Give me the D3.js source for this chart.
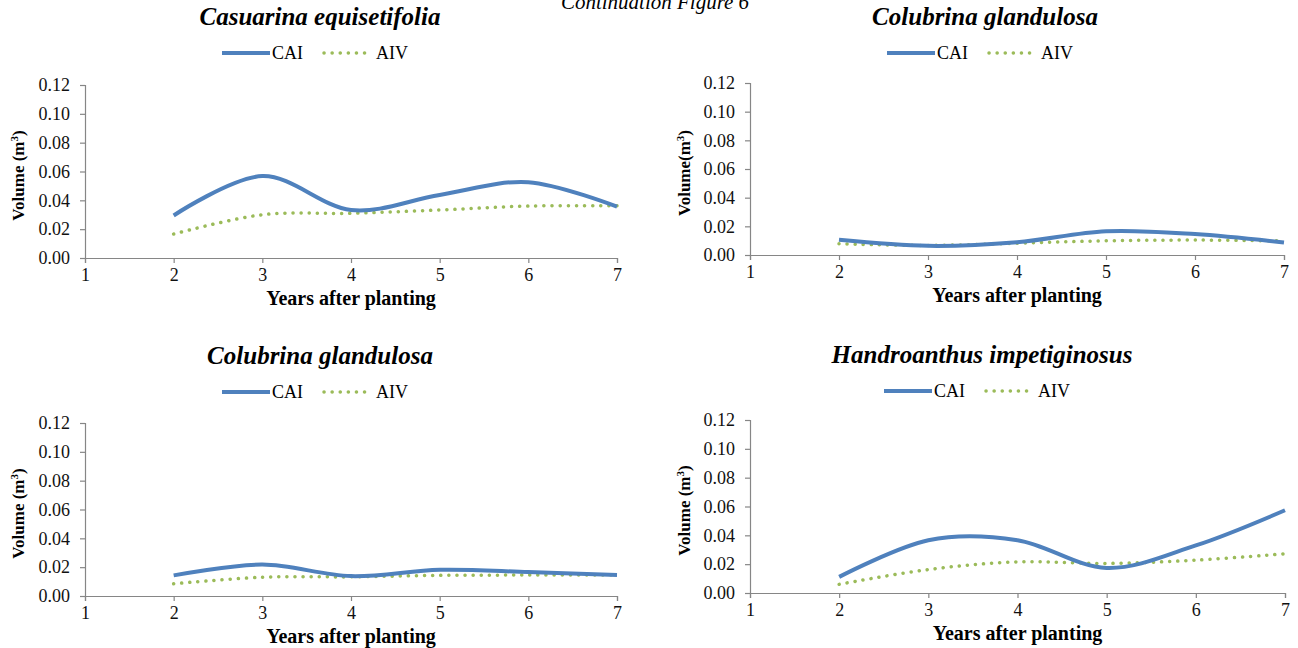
<!DOCTYPE html>
<html>
<head>
<meta charset="utf-8">
<script src="https://cdn.jsdelivr.net/npm/d3@7"></script>
<style>
  body { margin: 0; background: #fff; }
  svg { display: block; }
  svg text { font-family: 'Liberation Serif', 'Times New Roman', serif; }
</style>
</head>
<body>
<svg width="1298" height="648"></svg>
<script>
// data
let years = [2, 3, 4, 5, 6, 7];
let titles = ['Casuarina equisetifolia', 'Colubrina glandulosa', 'Colubrina glandulosa', 'Handroanthus impetiginosus'];
let yTitles = ['Volume (m', 'Volume(m', 'Volume (m', 'Volume (m'];
let yTicks = [0, 0.02, 0.04, 0.06, 0.08, 0.10, 0.12];
let xTicks = [1, 2, 3, 4, 5, 6, 7];
let seriesNames = ['CAI', 'AIV'];

let caiCasuarina = [0.0295, 0.0568, 0.0333, 0.0437, 0.0526, 0.0356];
let aivCasuarina = [0.0166, 0.0300, 0.0310, 0.0333, 0.0360, 0.0362];
let caiColubrina1 = [0.0106, 0.0064, 0.0089, 0.0166, 0.0146, 0.0087];
let aivColubrina1 = [0.0078, 0.0067, 0.0082, 0.0099, 0.0104, 0.0098];
let caiColubrina2 = [0.0143, 0.0218, 0.0138, 0.0182, 0.0166, 0.0145];
let aivColubrina2 = [0.0085, 0.0130, 0.0133, 0.0143, 0.0145, 0.0145];
let caiHandro = [0.0112, 0.0366, 0.0366, 0.0174, 0.0330, 0.0574];
let aivHandro = [0.0060, 0.0163, 0.0216, 0.0205, 0.0228, 0.0272];

let svg = d3.select('svg');

// figure caption, cut off at the top like the source scan
svg.append('text')
    .attr('x', 655).attr('y', 9)
    .attr('text-anchor', 'middle')
    .attr('font-style', 'italic')
    .attr('font-size', 21)
    .text('Continuation Figure 6');

// layout of the four panels
let panels = [
    { left: 85, right: 617, top: 85, bottom: 258, cx: 320, titleY: 25, legY: 53, yLabX: 24, xLabY: 305, cai: caiCasuarina, aiv: aivCasuarina },
    { left: 750, right: 1284, top: 83, bottom: 255, cx: 985, titleY: 25, legY: 53, yLabX: 690, xLabY: 302, cai: caiColubrina1, aiv: aivColubrina1 },
    { left: 85, right: 617, top: 423, bottom: 596, cx: 320, titleY: 364, legY: 392, yLabX: 24, xLabY: 643, cai: caiColubrina2, aiv: aivColubrina2 },
    { left: 750, right: 1285, top: 420, bottom: 593, cx: 982, titleY: 363, legY: 391, yLabX: 690, xLabY: 640, cai: caiHandro, aiv: aivHandro }
];

let axisColor = '#868686';
let blue = '#4f81bd', green = '#9bbb59';
let dots = '0.1,8';

let drawPanel = (p, i) => {
    let g = svg.append('g');

    let x = d3.scaleLinear().domain([1, 7]).range([p.left, p.right]);
    let y = d3.scaleLinear().domain([0, 0.12]).range([p.bottom, p.top]);

    // title
    g.append('text')
        .attr('x', p.cx).attr('y', p.titleY)
        .attr('text-anchor', 'middle')
        .attr('font-weight', 'bold').attr('font-style', 'italic')
        .attr('font-size', 25)
        .text(titles[i]);

    // legend
    let lx = p.cx - 98;
    let leg = g.append('g').attr('transform', `translate(${lx}, ${p.legY})`);
    leg.append('line').attr('x1', 0).attr('x2', 48).attr('y1', 0).attr('y2', 0)
        .attr('stroke', blue).attr('stroke-width', 4);
    leg.append('text').attr('x', 50).attr('y', 6).attr('font-size', 18).text(seriesNames[0]);
    leg.append('line').attr('x1', 102).attr('x2', 150).attr('y1', 0).attr('y2', 0)
        .attr('stroke', green).attr('stroke-width', 3.5)
        .attr('stroke-linecap', 'round').attr('stroke-dasharray', dots);
    leg.append('text').attr('x', 154).attr('y', 6).attr('font-size', 18).text(seriesNames[1]);

    // axes
    let yAxis = d3.axisLeft(y).tickValues(yTicks).tickFormat(d3.format('.2f')).tickSizeOuter(0).tickSize(5).tickPadding(10);
    let gy = g.append('g').attr('transform', `translate(${p.left}, 0)`).call(yAxis);
    let xAxis = d3.axisBottom(x).tickValues(xTicks).tickFormat(d3.format('d')).tickSizeOuter(0).tickSize(5).tickPadding(5);
    let gx = g.append('g').attr('transform', `translate(0, ${p.bottom})`).call(xAxis);

    [gx, gy].forEach((a) => {
        a.attr('font-family', null);
        a.select('.domain').attr('stroke', axisColor).attr('stroke-width', 1.2);
        a.selectAll('.tick line').attr('stroke', axisColor).attr('stroke-width', 1.2);
        a.selectAll('.tick text').attr('font-size', 18).attr('fill', '#111');
    });

    // axis titles
    let yl = g.append('text')
        .attr('transform', `translate(${p.yLabX}, ${(p.top + p.bottom) / 2 + 4}) rotate(-90)`)
        .attr('text-anchor', 'middle')
        .attr('font-weight', 'bold').attr('font-size', 17);
    yl.append('tspan').text(yTitles[i]);
    yl.append('tspan').attr('font-size', 11).attr('dy', -6).text('3');
    yl.append('tspan').attr('dy', 6).text(')');

    g.append('text')
        .attr('x', (p.left + p.right) / 2).attr('y', p.xLabY)
        .attr('text-anchor', 'middle')
        .attr('font-weight', 'bold').attr('font-size', 20)
        .text('Years after planting');

    // smoothed lines like the spreadsheet chart
    let line = d3.line()
        .x((d, k) => x(years[k]))
        .y((d) => y(d))
        .curve(d3.curveCardinal.tension(0));

    g.append('path').datum(p.aiv)
        .attr('d', line)
        .attr('fill', 'none').attr('stroke', green)
        .attr('stroke-width', 3.5).attr('stroke-linecap', 'round')
        .attr('stroke-dasharray', dots);

    g.append('path').datum(p.cai)
        .attr('d', line)
        .attr('fill', 'none').attr('stroke', blue)
        .attr('stroke-width', 4);
};

panels.forEach(drawPanel);
</script>
</body>
</html>
